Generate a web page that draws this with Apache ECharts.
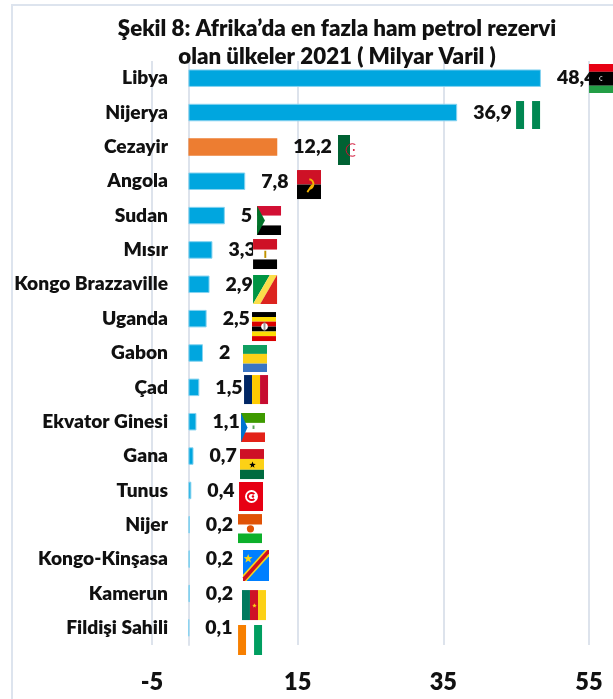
<!DOCTYPE html>
<html>
<head>
<meta charset="utf-8">
<style>html,body{margin:0;padding:0;background:#fff;overflow:hidden}#c{width:613px;height:699px}</style>
<script src="https://cdn.jsdelivr.net/npm/echarts@6/dist/echarts.min.js"></script>
</head>
<body>
<div id="c"></div>
<script>
const titleText = "Şekil 8: Afrika’da en fazla ham petrol rezervi\nolan ülkeler 2021 ( Milyar Varil )";
const categories = ["Libya","Nijerya","Cezayir","Angola","Sudan","Mısır","Kongo Brazzaville","Uganda","Gabon","Çad","Ekvator Ginesi","Gana","Tunus","Nijer","Kongo-Kinşasa","Kamerun","Fildişi Sahili"];
const values = [48.4,36.9,12.2,7.8,5,3.3,2.9,2.5,2,1.5,1.1,0.7,0.4,0.2,0.2,0.2,0.1];
const axisTicks = [-5,15,35,55];
const highlighted = "Cezayir";

// Flag placement relative to the end of each bar: [dx, dy, width, height] in pixels
const flagBoxes = [[48.1,-14.2,25,29],[58.9,-11.5,24,28],[60.7,-11.9,24,30],[51.8,-11.2,24,29],[32.2,-9.6,24,29],[40.6,-10.9,24,30],[43.5,-9.3,24,29],[45.4,-6.6,24,29],[40,-8,24,27],[44.7,-12.3,24,29],[44.6,-8.7,24,29],[46.5,-7,24,30],[47.7,-8.4,24,29],[48.1,-10.7,24,29],[53.1,-9.1,26,31],[52.1,-3.4,24,30],[48.9,-2.8,24,30]];

// Flag artwork in unit coordinates
const R = (x0,y0,x1,y1,c)=>({k:'p',pts:[[x0,y0],[x1,y0],[x1,y1],[x0,y1]],c});
const P = (pts,c)=>({k:'p',pts,c});
const C = (x,y,r,c)=>({k:'c',x,y,r,c});
const S = (x,y,r,c)=>({k:'s',x,y,r,c});
const A = (x,y,r,a0,a1,c,w)=>({k:'a',x,y,r,a0,a1,c,w});
const flagArt = {
  "Libya":[R(0,0,1,.27,'#e70013'),R(0,.27,1,.75,'#000'),R(0,.75,1,1,'#239e46'),A(.5,.5,.08,1.2,5.1,'#ddd',1)],
  "Nijerya":[R(0,0,.333,1,'#008751'),R(.667,0,1,1,'#008751')],
  "Cezayir":[R(0,0,.5,1,'#006233'),A(.6,.5,.26,1.1,5.2,'#d21034',1),C(.66,.5,.04,'#d21034')],
  "Angola":[R(0,0,1,.5,'#ce1126'),R(0,.5,1,1,'#000'),A(.48,.48,.2,-1.4,1.4,'#f4b400',2),P([[.4,.74],[.6,.5],[.65,.54],[.46,.78]],'#f4b400')],
  "Sudan":[R(0,0,1,.33,'#d21034'),R(0,.67,1,1,'#000'),P([[0,0],[.33,.5],[0,1]],'#007229')],
  "Mısır":[R(0,0,1,.35,'#ce1126'),R(0,.68,1,1,'#000'),R(.47,.39,.55,.63,'#c09300')],
  "Kongo Brazzaville":[P([[0,0],[.7,0],[0,1]],'#009543'),P([[.7,0],[1,0],[.3,1],[0,1]],'#fbde4a'),P([[1,0],[1,1],[.3,1]],'#dc241f')],
  "Uganda":[R(0,0,1,.17,'#000'),R(0,.17,1,.33,'#fcdc04'),R(0,.33,1,.5,'#d90000'),R(0,.5,1,.67,'#000'),R(0,.67,1,.83,'#fcdc04'),R(0,.83,1,1,'#d90000'),C(.52,.5,.14,'#fff'),R(.48,.36,.56,.64,'#999')],
  "Gabon":[R(0,0,1,.33,'#0f9e60'),R(0,.33,1,.69,'#fcd116'),R(0,.69,1,1,'#3a75c4')],
  "Çad":[R(0,0,.333,1,'#002664'),R(.333,0,.667,1,'#fecb00'),R(.667,0,1,1,'#c60c30')],
  "Ekvator Ginesi":[R(0,0,1,.34,'#3e9a00'),R(0,.67,1,1,'#e32118'),P([[0,0],[.27,.5],[0,1]],'#0073ce'),R(.48,.43,.56,.55,'#5aa55a')],
  "Gana":[R(0,0,1,.33,'#ce1126'),R(0,.33,1,.69,'#fcd116'),R(0,.69,1,1,'#006b3f'),S(.52,.53,.14,'#000')],
  "Tunus":[R(0,0,1,1,'#e70013'),C(.52,.5,.27,'#fff'),A(.52,.5,.15,.7,5.6,'#e70013',2),C(.58,.5,.05,'#e70013')],
  "Nijer":[R(0,0,1,.36,'#e05206'),R(0,.67,1,1,'#0db02b'),C(.52,.51,.15,'#e05206')],
  "Kongo-Kinşasa":[R(0,0,1,1,'#007fff'),P([[0,.8],[.86,0],[1,0],[1,.2],[.14,1],[0,1]],'#f7d618'),P([[0,.88],[.94,0],[1,0],[1,.11],[.07,1],[0,1]],'#ce1021'),S(.2,.28,.18,'#f7d618')],
  "Kamerun":[R(0,0,.333,1,'#007a5e'),R(.333,0,.667,1,'#ce1126'),R(.667,0,1,1,'#fcd116'),S(.52,.52,.1,'#fcd116')],
  "Fildişi Sahili":[R(0,0,.333,1,'#f77f00'),R(.667,0,1,1,'#009e60')]
};

function starPoints(cx,cy,rx,ry){
  const pts=[];
  for(let i=0;i<10;i++){
    const a=-Math.PI/2+i*Math.PI/5, f=i%2?0.42:1;
    pts.push([cx+Math.cos(a)*rx*f,cy+Math.sin(a)*ry*f]);
  }
  return pts;
}
function renderFlag(params,api){
  const i=params.dataIndex;
  const end=api.coord([api.value(0),api.value(1)]);
  const [dx,dy,w,h]=flagBoxes[i];
  const x0=end[0]+dx, y0=end[1]+dy;
  const children=[{type:'rect',shape:{x:x0,y:y0,width:w,height:h},style:{fill:'#fff'}}];
  flagArt[categories[i]].forEach(s=>{
    if(s.k==='p'){
      children.push({type:'polygon',shape:{points:s.pts.map(p=>[x0+p[0]*w,y0+p[1]*h])},style:{fill:s.c}});
    }else if(s.k==='c'){
      children.push({type:'circle',shape:{cx:x0+s.x*w,cy:y0+s.y*h,r:s.r*w},style:{fill:s.c}});
    }else if(s.k==='s'){
      children.push({type:'polygon',shape:{points:starPoints(x0+s.x*w,y0+s.y*h,s.r*w,s.r*w)},style:{fill:s.c}});
    }else{
      children.push({type:'arc',shape:{cx:x0+s.x*w,cy:y0+s.y*h,r:s.r*w,startAngle:s.a0,endAngle:s.a1,clockwise:true},style:{fill:null,stroke:s.c,lineWidth:s.w}});
    }
  });
  return {type:'group',children};
}

const FONT='Lato';
const WEIGHT=800;
const chart=echarts.init(document.getElementById('c'),null,{renderer:'canvas'});
chart.setOption({
  animation:false,
  backgroundColor:'#fff',
  title:{text:titleText,left:332,top:10,textAlign:'center',
    textStyle:{fontFamily:FONT,fontWeight:WEIGHT,fontSize:22.3,lineHeight:28,color:'#111'}},
  graphic:[{type:'rect',silent:true,z:0,shape:{x:12,y:5,width:700,height:800},style:{fill:null,stroke:'#dde4ee',lineWidth:2}}],
  grid:{left:152,right:24,top:61,bottom:54,containLabel:false,outerBoundsMode:'none'},
  xAxis:{type:'value',min:-5,max:55,interval:20,
    axisLine:{show:false},
    axisTick:{show:false,customValues:axisTicks},
    splitLine:{show:true,lineStyle:{color:'#dde3ec',width:2}},
    axisLabel:{customValues:axisTicks,margin:25,fontFamily:FONT,fontWeight:WEIGHT,fontSize:23.5,color:'#111'}},
  yAxis:{type:'category',inverse:true,data:categories,
    axisLine:{show:true,onZero:true,lineStyle:{color:'#dde3ec',width:2}},
    axisTick:{show:false},
    axisLabel:{margin:-16,interval:0,fontFamily:FONT,fontWeight:WEIGHT,fontSize:19.2,color:'#111'}},
  series:[
    {type:'bar',z:2,barWidth:17.5,
      data:values.map((v,i)=>categories[i]===highlighted
        ?{value:v,itemStyle:{color:'#ed7d31',borderWidth:0}}:v),
      itemStyle:{color:'#00a6df',borderColor:'#86d3f0',borderWidth:1},
      label:{show:true,position:'right',distance:16,fontFamily:FONT,fontWeight:WEIGHT,fontSize:19.5,color:'#111',
        formatter:p=>String(p.value).replace('.',',')}},
    {type:'custom',z:20,renderItem:renderFlag,clip:false,
      encode:{x:0,y:1},
      data:values.map((v,i)=>[v,i])}
  ]
});
</script>
</body>
</html>
